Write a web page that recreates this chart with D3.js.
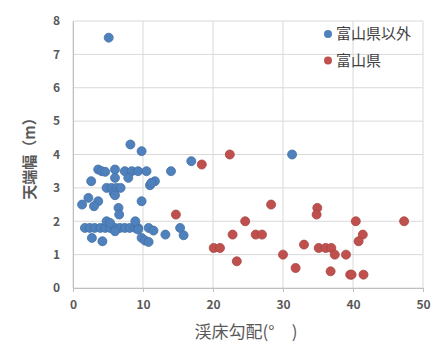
<!DOCTYPE html>
<html lang="ja">
<head>
<meta charset="UTF-8" />
<title>scatter</title>
<style>
  body { margin: 0; background: #fff; }
  text { font-family: "Noto Sans CJK JP", "Noto Sans", sans-serif; }
</style>
</head>
<body>
<svg width="443" height="347" id="mainsvg"></svg>
<script src="https://cdn.jsdelivr.net/npm/d3@7"></script>
<script>
// 富山県以外
const otherX = [5.1, 8.2, 9.8, 16.9, 31.3,
  3.6, 4.1, 4.6, 6.0, 7.4, 8.4, 9.3, 10.5, 7.9, 6.0, 14.0, 11.7, 11.0, 11.2, 2.6,
  4.8, 5.5, 6.2, 6.8, 5.8, 6.0, 1.3, 2.2, 3.6, 3.0, 9.8, 6.5, 6.6,
  1.7, 2.4, 3.1, 3.9, 4.6, 5.3, 6.0, 6.7, 7.4, 8.1, 8.9, 9.3,
  4.8, 5.3, 6.0, 8.9, 9.3, 2.7, 4.2, 9.8, 10.3, 10.8, 10.8, 11.5, 13.2, 15.3, 15.8]
const otherY = [7.5, 4.3, 4.1, 3.8, 4.0,
  3.55, 3.5, 3.48, 3.55, 3.5, 3.5, 3.5, 3.5, 3.3, 3.3, 3.5, 3.2, 3.08, 3.15, 3.2,
  3.0, 3.0, 3.0, 3.0, 2.85, 2.78, 2.5, 2.7, 2.6, 2.45, 2.6, 2.4, 2.2,
  1.8, 1.8, 1.8, 1.8, 1.8, 1.8, 1.8, 1.8, 1.8, 1.8, 1.8, 1.8,
  2.0, 1.95, 1.7, 2.0, 1.75, 1.5, 1.4, 1.5, 1.42, 1.38, 1.8, 1.72, 1.6, 1.8, 1.58]
// 富山県
const toyamaX = [22.4, 18.4, 28.3, 34.9, 34.8, 24.6, 40.4, 47.3, 22.8, 26.1, 27.0, 41.4, 40.8, 33.0,
  20.1, 21.0, 35.1, 36.1, 36.9, 30.0, 37.4, 39.0, 23.4, 31.8, 36.8, 39.6, 39.8, 41.5, 14.7]
const toyamaY = [4.0, 3.7, 2.5, 2.4, 2.2, 2.0, 2.0, 2.0, 1.6, 1.6, 1.6, 1.6, 1.4, 1.3,
  1.2, 1.2, 1.2, 1.2, 1.2, 1.0, 1.0, 1.0, 0.8, 0.6, 0.5, 0.4, 0.4, 0.4, 2.2]

const seriesNames = ["富山県以外", "富山県"]
const colors = ["#4f81bd", "#c0504d"]
const xTicks = [0, 10, 20, 30, 40, 50]
const yTicks = [0, 1, 2, 3, 4, 5, 6, 7, 8]

const svg = d3.select("#mainsvg")
const x = d3.scaleLinear().domain([0, 50]).range([73, 423])
const y = d3.scaleLinear().domain([0, 8]).range([288, 21])

// grid
svg.append("g")
  .selectAll("line.v")
  .data(xTicks)
  .join("line")
  .attr("x1", (d) => x(d)).attr("x2", (d) => x(d))
  .attr("y1", y(8)).attr("y2", y(0))
  .attr("stroke", "#d9d9d9").attr("stroke-width", 1)
svg.append("g")
  .selectAll("line.h")
  .data(yTicks)
  .join("line")
  .attr("x1", x(0)).attr("x2", x(50))
  .attr("y1", (d) => y(d)).attr("y2", (d) => y(d))
  .attr("stroke", "#d9d9d9").attr("stroke-width", 1)

// axes (labels only)
const xAxis = svg.append("g")
  .attr("transform", `translate(0,${y(0)})`)
  .call(d3.axisBottom(x).tickValues(xTicks).tickSize(4).tickPadding(8))
const yAxis = svg.append("g")
  .attr("transform", `translate(${x(0)},0)`)
  .call(d3.axisLeft(y).tickValues(yTicks).tickSize(0).tickPadding(13))
;[xAxis, yAxis].forEach((g) => {
  g.select(".domain").attr("stroke", "#bfbfbf")
  g.selectAll(".tick line").attr("stroke", "#bfbfbf")
  g.selectAll(".tick text")
    .attr("fill", "#595959")
    .attr("font-size", 12)
    .attr("font-weight", "bold")
    .attr("font-family", "'Liberation Sans', sans-serif")
})

// points
const pts = [
  otherX.map((v, i) => ({ x: v, y: otherY[i], s: 0 })),
  toyamaX.map((v, i) => ({ x: v, y: toyamaY[i], s: 1 })),
]
pts.forEach((data, k) => {
  svg.append("g")
    .selectAll("circle")
    .data(data)
    .join("circle")
    .attr("cx", (d) => x(d.x))
    .attr("cy", (d) => y(d.y))
    .attr("r", 4.5)
    .attr("fill", colors[k])
    .attr("stroke", d3.color(colors[k]).darker(0.4))
    .attr("stroke-width", 0.8)
})

// legend
const leg = svg.append("g")
seriesNames.forEach((name, i) => {
  leg.append("circle")
    .attr("cx", 328).attr("cy", 34 + i * 26.5)
    .attr("r", 4).attr("fill", colors[i])
  leg.append("text")
    .attr("x", 336).attr("y", 34 + i * 26.5)
    .attr("dy", "0.36em")
    .attr("font-size", 15)
    .attr("fill", "#404040")
    .text(name)
})

// axis titles
svg.append("text")
  .attr("x", 246).attr("y", 332)
  .attr("dy", "0.36em")
  .attr("text-anchor", "middle")
  .attr("font-size", 17)
  .attr("fill", "#595959")
  .text("渓床勾配(°　)")
svg.append("text")
  .attr("transform", `translate(30,155) rotate(-90)`)
  .attr("dy", "0.36em")
  .attr("text-anchor", "middle")
  .attr("font-size", 15)
  .attr("font-weight", "bold")
  .attr("fill", "#595959")
  .text("天端幅（m）")
</script>
</body>
</html>
